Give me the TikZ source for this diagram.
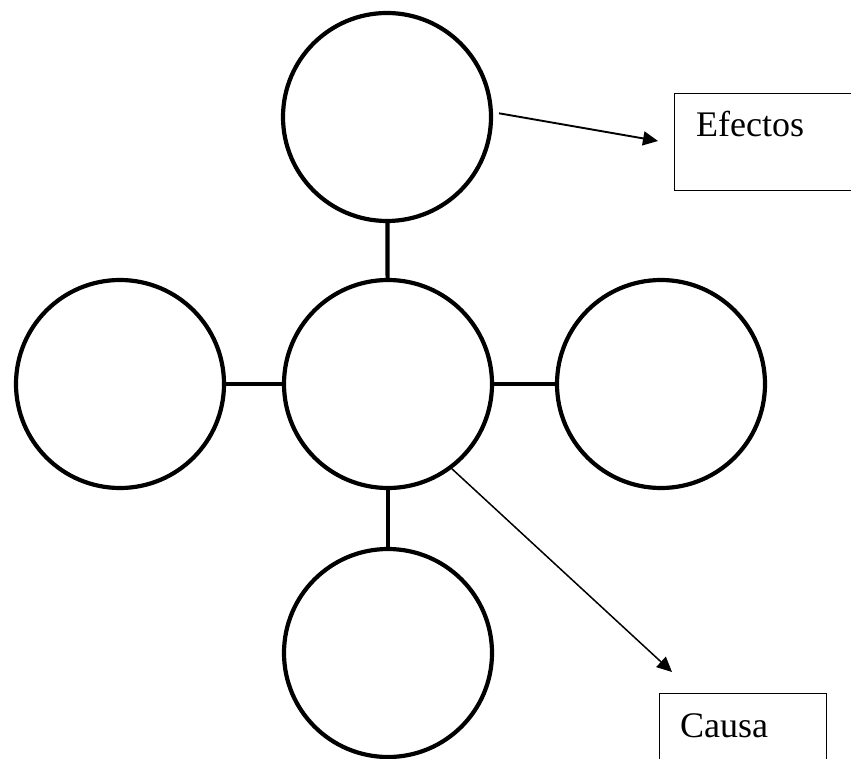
\documentclass[tikz,border=0pt]{standalone}
\usepackage{fontspec}
\setmainfont{Liberation Serif}
\usetikzlibrary{arrows.meta,calc}
\begin{document}
\begin{tikzpicture}[x=1pt,y=-1pt,
				bubble/.style={circle,draw,line width=4.2pt,inner sep=0pt,minimum size=208pt},
				link/.style={line width=4.2pt},
				arr/.style={line width=1.9pt,-{Triangle[length=15pt,width=14pt]}},
				thin arr/.style={line width=1.5pt,-{Triangle[length=15pt,width=14pt]}},
				tagbox/.style={draw,line width=1.2pt,inner sep=0pt},
				tagtext/.style={anchor=base west,inner sep=0pt,font=\fontsize{36}{40}\selectfont}]
\path[use as bounding box,clip] (0,0) rectangle (851,759);
\node[bubble] (mid) at (388,384) {};
\node[bubble] (top) at (387,117) {};
\node[bubble] (left) at (120,384) {};
\node[bubble] (right) at (661,384) {};
\node[bubble] (bottom) at (388,653) {};
\draw[link] (mid) -- (top);
\draw[link] (mid) -- (left);
\draw[link] (mid) -- (right);
\draw[link] (mid) -- (bottom);
% boxes
\node[tagbox,minimum width=200pt,minimum height=97pt,anchor=north west] (efbox) at (674,93) {};
\node[tagtext] (eftext) at (696,137) {Efectos};
\node[tagbox,minimum width=167pt,minimum height=100pt,anchor=north west] (cabox) at (659,693) {};
\node[tagtext] (catext) at (680,737) {Causa};
% arrows
\coordinate (efend) at (658,141);
\coordinate (caend) at (672,672);
\draw[arr] ([xshift=6pt]top.2) -- (efend);
\draw[thin arr] (mid.-53) -- (caend);
\end{tikzpicture}
\end{document}
